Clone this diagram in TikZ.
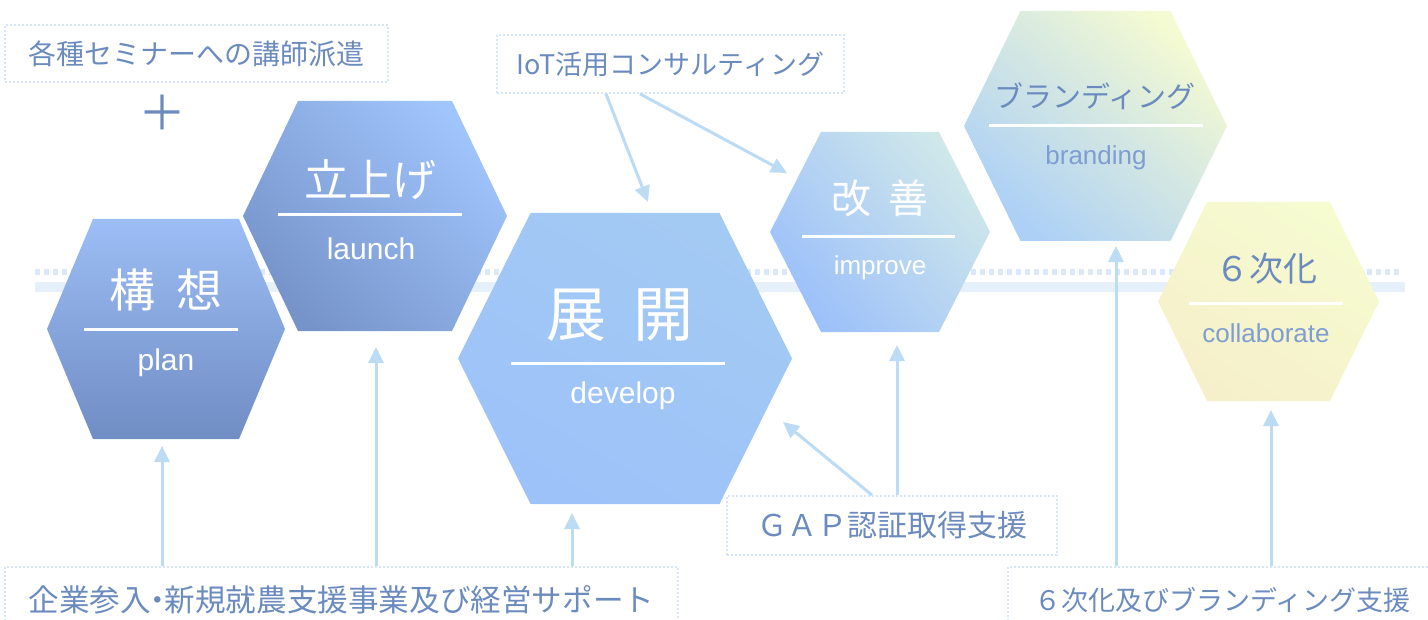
\documentclass[tikz,border=0pt]{standalone}
\usepackage{fontspec}
\setmainfont{Liberation Sans}
\newfontfamily\jp{Noto Sans CJK JP}
\usetikzlibrary{arrows.meta}
\definecolor{txt}{HTML}{6B8BBE}
\definecolor{subtxt}{HTML}{7E9ED2}
\definecolor{lnk}{HTML}{BCDBF5}
\definecolor{frm}{HTML}{D6E6F6}
\definecolor{band}{HTML}{E5F0FB}
\definecolor{banddot}{HTML}{DAE8F8}
% hexagon: centre x, centre y, half width, half height, half top edge
\newcommand\hexpath[5]{(#1-#3,#2) -- (#1-#5,#2-#4) -- (#1+#5,#2-#4) -- (#1+#3,#2) -- (#1+#5,#2+#4) -- (#1-#5,#2+#4) -- cycle}

\begin{document}
\begin{tikzpicture}[x=0.5pt, y=-0.5pt,
    lbl/.style={draw=frm, dash pattern=on 1pt off 1pt, line width=0.9pt, text=txt, inner sep=0pt},
    arr/.style={-{Triangle[width=7.5pt,length=8pt]}, draw=lnk, line width=1.5pt},
    ttl/.style={text=white, font=\jp\fontsize{#1}{#1}\selectfont},
    sub/.style={text=white, font=\fontsize{#1}{#1}\selectfont},
    bar/.style={draw=white, line width=1.5pt}]
    \useasboundingbox (0,0) rectangle (1428,620);

    \draw [band, line width=5pt] (35,287) -- (1405,287);
    \draw [banddot, line width=3pt, dash pattern=on 2.5pt off 2pt] (35,272) -- (1403,272);

    \shade [top color={rgb,255:red,156;green,189;blue,245}, bottom color={rgb,255:red,112;green,141;blue,196}] \hexpath{166}{329}{119}{110}{73};
    \shade [top color={rgb,255:red,160;green,196;blue,252}, bottom color={rgb,255:red,118;green,148;blue,202}, shading angle=-45] \hexpath{375}{216}{132}{115}{77};
    \shade [top color={rgb,255:red,163;green,202;blue,243}, bottom color={rgb,255:red,157;green,194;blue,250}, shading angle=-30] \hexpath{625}{358.5}{167}{145.5}{94.5};
    \shade [top color={rgb,255:red,208;green,232;blue,234}, middle color={rgb,255:red,168;green,204;blue,246}, bottom color={rgb,255:red,156;green,192;blue,250}, shading angle=-50] \hexpath{880}{232}{110}{100}{59};
    \shade [top color={rgb,255:red,244;green,250;blue,210}, middle color={rgb,255:red,200;green,229;blue,246}, bottom color={rgb,255:red,172;green,208;blue,246}, shading angle=-40] \hexpath{1095.5}{126}{131.5}{115}{75};
    \shade [top color={rgb,255:red,246;green,251;blue,208}, middle color={rgb,255:red,192;green,224;blue,248}, bottom color={rgb,255:red,246;green,240;blue,202}, shading angle=-32] \hexpath{1268.5}{301.5}{110.5}{99.5}{61.5};

    \node [ttl=23] (plan-jp) at (166,290) {構\hspace{.45em}想};
    \draw [bar] (84,329) -- (238,329);
    \node [sub=15] (plan-en) at (166,363) {plan};

    \node [ttl=22] (launch-jp) at (370,180) {立上げ};
    \draw [bar] (278,215) -- (462,215);
    \node [sub=15] (launch-en) at (371,249) {launch};

    \node [ttl=30] (develop-jp) at (620,315) {展\hspace{.45em}開};
    \draw [bar] (511,363) -- (725,363);
    \node [sub=15] (develop-en) at (623,396) {develop};

    \node [ttl=20] (improve-jp) at (880,198) {改\hspace{.45em}善};
    \draw [bar] (802,237) -- (955,237);
    \node [sub=13] (improve-en) at (880,268) {improve};

    \node [ttl=14.5, text=txt] (branding-jp) at (1095,96) {ブランディング};
    \draw [bar] (989,126) -- (1203,126);
    \node [sub=13, text=subtxt] (branding-en) at (1096,158) {branding};

    \node [ttl=17, text=txt] (collab-jp) at (1266,269) {６次化};
    \draw [bar] (1189,303) -- (1343,303);
    \node [sub=13, text=subtxt] (collab-en) at (1266,333) {collaborate};

    \node [lbl, font=\jp\fontsize{14}{14}\selectfont, minimum width=191.5pt, minimum height=28.5pt] (seminar) at (196.5,53.5) {各種セミナーへの講師派遣};
    \node [text=txt, font=\jp\fontsize{24}{24}\selectfont] (plus) at (162,113) {＋};
    \node [lbl, font=\jp\fontsize{13.5}{13.5}\selectfont, minimum width=173.5pt, minimum height=29pt] (iot) at (670.5,64) {IoT活用コンサルティング};
    \node [lbl, font=\jp\fontsize{15}{15}\selectfont, minimum width=165pt, minimum height=29.5pt] (gap) at (892,525.5) {ＧＡＰ認証取得支援};
    \node [lbl, font=\jp\fontsize{15.3}{15.3}\selectfont, minimum width=336.5pt, minimum height=33pt] (support) at (341.5,600) {企業参入\hspace{-.28em}・\hspace{-.28em}新規就農支援事業及び経営サポート};
    \node [lbl, font=\jp\fontsize{13.5}{13.5}\selectfont, minimum width=214.5pt, minimum height=33pt] (sixth) at (1222.5,600) {６次化及びブランディング支援};

    \coordinate (tip-plan) at (162,446);
    \coordinate (tip-launch) at (376,347);
    \coordinate (tip-develop) at (572,513);
    \coordinate (tip-develop2) at (648,202);
    \coordinate (tip-improve) at (787,173);
    \coordinate (tip-develop3) at (783,422);
    \coordinate (tip-improve2) at (897,345);
    \coordinate (tip-branding) at (1116,246);
    \coordinate (tip-collab) at (1271,410);

    \draw [arr] (support.north -| tip-plan) -- (tip-plan);
    \draw [arr] (support.north -| tip-launch) -- (tip-launch);
    \draw [arr] (support.north -| tip-develop) -- (tip-develop);
    \draw [arr] ([xshift=-32.25pt]iot.south) -- (tip-develop2);
    \draw [arr] ([xshift=-15.25pt]iot.south) -- (tip-improve);
    \draw [arr] ([xshift=-10pt]gap.north) -- (tip-develop3);
    \draw [arr] ([xshift=2.5pt]gap.north) -- (tip-improve2);
    \draw [arr] (sixth.north -| tip-branding) -- (tip-branding);
    \draw [arr] (sixth.north -| tip-collab) -- (tip-collab);
\end{tikzpicture}
\end{document}
